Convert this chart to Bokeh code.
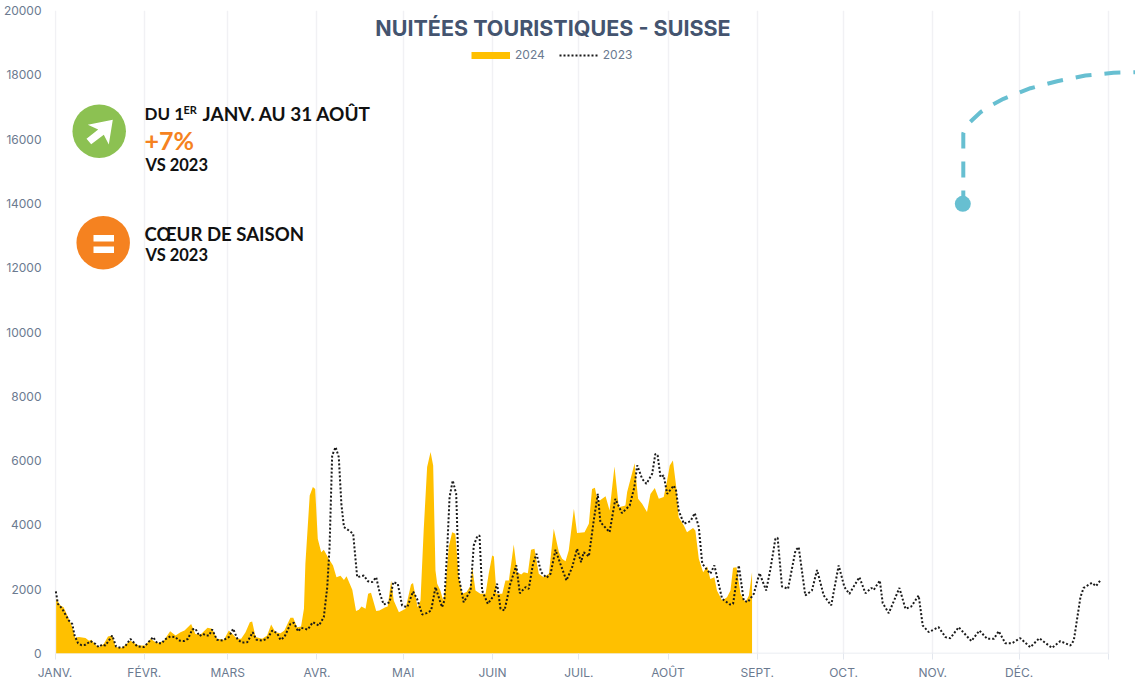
from bokeh.embed import file_html
from bokeh.resources import INLINE
from bokeh.plotting import figure
from bokeh.models import Range1d, FixedTicker, Label, Legend, LegendItem

# ---- data ----
month_labels = ["JANV.", "FÉVR.", "MARS", "AVR.", "MAI", "JUIN", "JUIL.", "AOÛT", "SEPT.", "OCT.", "NOV.", "DÉC."]
month_days = [31, 29, 31, 30, 31, 30, 31, 31, 30, 31, 30, 31]
y_ticks = [0, 2000, 4000, 6000, 8000, 10000, 12000, 14000, 16000, 18000, 20000]

days_2024 = [0.4,1.9,3,4.8,6,7,8.3,10.6,11.8,12.6,14,15.5,17,18.4,19.9,21,23.3,26.2,29,31.4,33.2,35.5,37.8,40,41.9,43.6,45,47.3,48.8,50.6,53,54.6,56.3,58.7,60.4,63.3,64.7,66.2,67.7,68.5,69.7,72,73.7,75.1,76.6,
78.35,79.7,81.8,82.8,84.1,85.5,86.5,87,88.5,89.6,90.4,91.3,92.5,93.4,95.1,96.6,97.8,99.2,100.4,101.3,103.3,104.6,105.6,106.5,107.9,108.8,109.8,111.6,112.7,114.8,115.6,116.8,117.7,119.5,121.8,123.7,124.4,126,127,128.1,129.3,130.5,131.4,132.2,132.8,133.9,134.9,135.7,136.8,138,139.1,140.3,141.5,143,144.4,145,146.1,147.8,149.6,150.7,151.9,152.5,153.4,155.4,156.5,157.7,
159.4,160.6,162,162.9,164.3,165.4,166.6,168.1,169.8,171.6,173.3,175.1,176.2,177.4,178.5,180.3,181.4,184,185.5,186.6,187.6,188.6,191.3,192.7,194.4,195.9,198.2,198.8,200,201.4,202.6,204,205.7,206.9,208.4,209.8,211.5,212.7,213.6,214.7,215.8,216.7,218.5,219.6,221.7,222.5,223.7,225.2,226.6,227.7,229.1,230,231.8,233.5,234.7,235.6,236.8,238.2,239.9,241.1,242.2]
values_2024 = [1700,1490,1440,1080,820,490,510,480,400,425,270,200,300,530,560,200,175,400,250,250,455,320,400,695,560,660,715,920,610,590,800,770,455,425,715,455,455,660,975,995,510,455,560,900,660,
630,715,1110,1110,820,840,1390,2790,4915,5175,5120,3570,3150,3225,2945,2740,2375,2415,2290,2405,1980,1320,1360,1460,1390,1855,1890,1320,1340,1440,1460,2270,1650,1285,1390,2145,2190,1440,1650,3825,5800,6265,5850,2580,2170,1960,1650,2065,3310,3775,3725,2375,1855,1910,2115,2685,1960,1855,1855,2480,3050,3020,1855,1855,2270,2270,
3390,2530,2460,2530,2500,3225,3255,2480,2375,2480,3880,3150,2945,2870,3205,4500,3745,3775,4035,5120,5155,4710,4895,4450,5820,4550,4600,5020,5435,5920,4810,4655,4400,4965,5145,4810,4865,5380,5850,6005,5225,4240,3980,3775,3900,3825,2945,2530,2705,2320,2375,1960,1650,1750,1960,2665,2685,1855,1595,1805,2530]

days_2023 = [0.3,1,2.5,4.8,6,6.8,8,9.2,10.6,12.3,14,15.2,16.4,17.5,18.7,19.9,21.2,22.8,24.2,26.2,28.6,30.9,34.1,35.5,37.2,38,40.1,41.9,43,44.8,46.2,47.7,48.8,50.2,51.4,52.5,53.5,54.6,56.3,58.4,60.4,61.9,63.5,65,66.8,68.7,70,72,73.7,75.5,77.2,
78.35,79.7,81.8,83,84.5,85.5,87.8,89.6,91.7,93.4,94.6,95.4,96.3,97.5,98.6,99.5,100.4,102.1,103.6,105,107.3,108.7,110.2,111.6,112.9,114.2,116.3,117.5,119.1,120.6,122.4,124.4,125.8,127.6,129.1,130.7,132.2,133.7,134.5,135.3,136.2,137.1,138.2,139.4,140.3,142,144.4,145.5,146.7,147.5,148.4,150.4,152.5,153.6,154.8,156.2,158.2,160.3,161.5,
163.5,164.6,166.1,167.3,168.9,170.8,172.2,173.9,175.6,177.7,179.7,181.4,182.8,183.7,185.5,187.2,188.6,189.5,192.7,194.7,197,199.7,201.3,202.3,204,205.5,207.5,208.6,209.4,210.4,211.5,212.7,215,215.8,216.7,218.5,220.8,222.3,223.7,224.9,227.7,229.1,231.8,234.5,235.6,237.6,239.3,240.7,242.8,244.8,
247.1,248.6,250.3,251.1,252.6,254.7,257.3,258.4,260.7,263,264.8,267.1,269.7,272.3,274.3,276,279.5,281.6,283.7,284.5,286.6,287.6,289.7,293.4,295.5,297.5,300.1,301.5,303.6,307,309.4,311.1,314,318.4,321.2,323.9,326.2,327.9,330.2,332.5,335.4,338.9,342,346.4,349.3,352.8,354,356.3,357.4,360.3,361.7,363.2]
values_2023 = [1930,1545,1390,1025,920,560,320,260,270,385,300,200,280,250,400,560,220,175,200,455,220,200,510,320,320,425,530,510,405,385,455,745,770,540,610,560,560,745,425,405,510,770,425,340,350,660,425,405,455,715,630,
425,510,920,955,685,800,745,975,870,1130,2065,3310,6160,6420,6110,4655,3930,3825,3725,2375,2425,2250,2220,2375,1855,1525,1595,2220,2170,1495,1440,1930,1700,1215,1255,1340,2065,1650,1440,1650,3100,4865,5380,4965,2375,1595,1960,3360,3640,3670,1960,1545,1805,2170,1390,1340,2170,2740,1875,
2065,2010,2790,3100,2530,2355,2480,3225,2790,2270,2685,3255,2840,3150,3020,4140,4965,4085,3775,4810,4365,4605,5175,5850,5435,5280,5590,6210,6160,5485,5540,4965,5225,5070,4450,4035,4115,4365,3930,2790,2480,2740,1700,1525,1545,2740,1650,1595,1855,2500,
1960,2635,3565,3600,2085,2010,3205,3310,1805,1960,2600,1805,1495,2740,2065,1855,2375,1875,2040,1980,2270,1565,1255,2040,1390,1460,1805,870,665,820,510,475,820,385,715,455,455,695,320,320,475,195,475,175,385,250,405,1750,2040,2200,2095,2270]

# ---- picture geometry of the decorations ----
FRAME_L, PX_PER_DAY, FRAME_B, PX_PER_UNIT = 54.5, 2.878, 653, 643 / 20000
def X(px): return (px - FRAME_L) / PX_PER_DAY
def Y(py): return (FRAME_B - py) / PX_PER_UNIT

month_ticks = [sum(month_days[:i]) for i in range(len(month_days) + 1)]

AXIS_TEXT = "#6b7a90"
AXIS_LINE = "#e3e7ee"
GRID = "#f1f1f4"
GOLD = "#FFC000"
ORANGE = "#F58220"
GREEN = "#8CC152"
TEAL = "#67BFD1"

p = figure(width=1135, height=685, output_backend="svg", toolbar_location=None,
           x_range=Range1d(X(54), X(1135)), y_range=Range1d(0, 20000),
           min_border_left=54, min_border_right=0, min_border_top=10, min_border_bottom=32,
           outline_line_color=None, background_fill_color="white", border_fill_color="white",
           margin=(0, 0, 0, 0))

p.xaxis.ticker = FixedTicker(ticks=month_ticks)
p.xaxis.major_label_overrides = {t: l for t, l in zip(month_ticks, month_labels + [""])}
p.xaxis.axis_line_color = None
p.xaxis.major_tick_in = 0
p.xaxis.major_tick_out = 6
p.xaxis.major_tick_line_color = AXIS_LINE
p.xaxis.minor_tick_line_color = None
p.xaxis.major_label_standoff = 5
p.xaxis.major_label_text_color = AXIS_TEXT
p.xaxis.major_label_text_font = "Inter"
p.xaxis.major_label_text_font_size = "12px"

p.yaxis.ticker = FixedTicker(ticks=y_ticks)
p.yaxis.formatter.use_scientific = False
p.yaxis.axis_line_color = None
p.yaxis.major_tick_line_color = None
p.yaxis.minor_tick_line_color = None
p.yaxis.major_tick_in = 0
p.yaxis.major_tick_out = 0
p.yaxis.minor_tick_in = 0
p.yaxis.minor_tick_out = 0
p.yaxis.major_label_standoff = 13
p.yaxis.major_label_text_color = AXIS_TEXT
p.yaxis.major_label_text_font = "Inter"
p.yaxis.major_label_text_font_size = "12px"

p.ygrid.visible = False
p.xgrid.ticker = FixedTicker(ticks=month_ticks)
p.xgrid.grid_line_color = GRID
p.xgrid.grid_line_width = 1.5

# baseline stops at the last tick while the frame runs on to the page edge
p.line([month_ticks[0], month_ticks[-1]], [0, 0], line_color=AXIS_LINE, line_width=1.5)

p.varea(days_2024, [0] * len(days_2024), values_2024, fill_color=GOLD)
r23 = p.line(days_2023, values_2023, line_color="#1a1a1a", line_width=2, line_dash="2 2")
# legend key for the area: a thick line lying outside the visible range
key24 = p.line([-50, -40], [0, 0], line_color=GOLD, line_width=7)

legend = Legend(items=[LegendItem(label="2024", renderers=[key24]), LegendItem(label="2023", renderers=[r23])],
                orientation="horizontal", location=(417, 591), margin=0, padding=0, spacing=14,
                glyph_width=39, glyph_height=8, label_standoff=5, border_line_color=None,
                background_fill_alpha=0, label_text_font="Inter", label_text_font_size="12px",
                label_text_color=AXIS_TEXT, label_height=8)
p.add_layout(legend, "center")

def text(px, py, s, size, color="#111111", style="bold", font="Lato", align="left"):
    p.add_layout(Label(x=X(px), y=Y(py), text=s, text_font=font, text_font_size=f"{size}px",
                       text_font_style=style, text_color=color, text_align=align,
                       text_baseline="middle"))

text(552.5, 27, "NUITÉES TOURISTIQUES - SUISSE", 21.5, color="#44546F", font="Inter", align="center")
text(144, 113, "DU 1", 17)
text(183, 109, "ER", 11)
text(202, 113, "JANV. AU 31 AOÛT", 19)
text(144, 139, "+7%", 25, color=ORANGE)
text(145, 164, "VS 2023", 16.5)
text(144, 233, "CŒUR DE SAISON", 18.6)
text(145, 254, "VS 2023", 16.5)

# badges
p.scatter([X(98.7)], [Y(130.7)], size=53.5, marker="circle", fill_color=GREEN, line_color=None)
p.scatter([X(102.7)], [Y(242.2)], size=53.5, marker="circle", fill_color=ORANGE, line_color=None)
arrow_px = [(112.3, 119.3), (108.3, 144), (103.3, 134.3), (90.7, 143.7), (86, 138.3), (97.7, 129), (87.3, 124.3)]
p.patch([X(a) for a, b in arrow_px], [Y(b) for a, b in arrow_px], fill_color="white", line_color=None)
for top, bottom in [(234.5, 241), (246, 252.5)]:
    p.quad(left=X(93), right=X(113.5), top=Y(top), bottom=Y(bottom), fill_color="white", line_color=None)

# dashed curve leaving the page on the right
curve_px = [(962.8, 206), (962.8, 133), (965, 127), (969.3, 121.7), (980, 111.7), (991, 104.6), (1003, 98.3),
            (1030, 87.7), (1056.7, 80.7), (1085, 75), (1113, 72.3), (1135, 71.7)]
p.line([X(a) for a, b in curve_px], [Y(b) for a, b in curve_px], line_color=TEAL, line_width=4, line_dash="16 13")
p.scatter([X(962.3)], [Y(203.3)], size=16, marker="circle", fill_color=TEAL, line_color=None)

open("out.html", "w").write(file_html(p, INLINE))
